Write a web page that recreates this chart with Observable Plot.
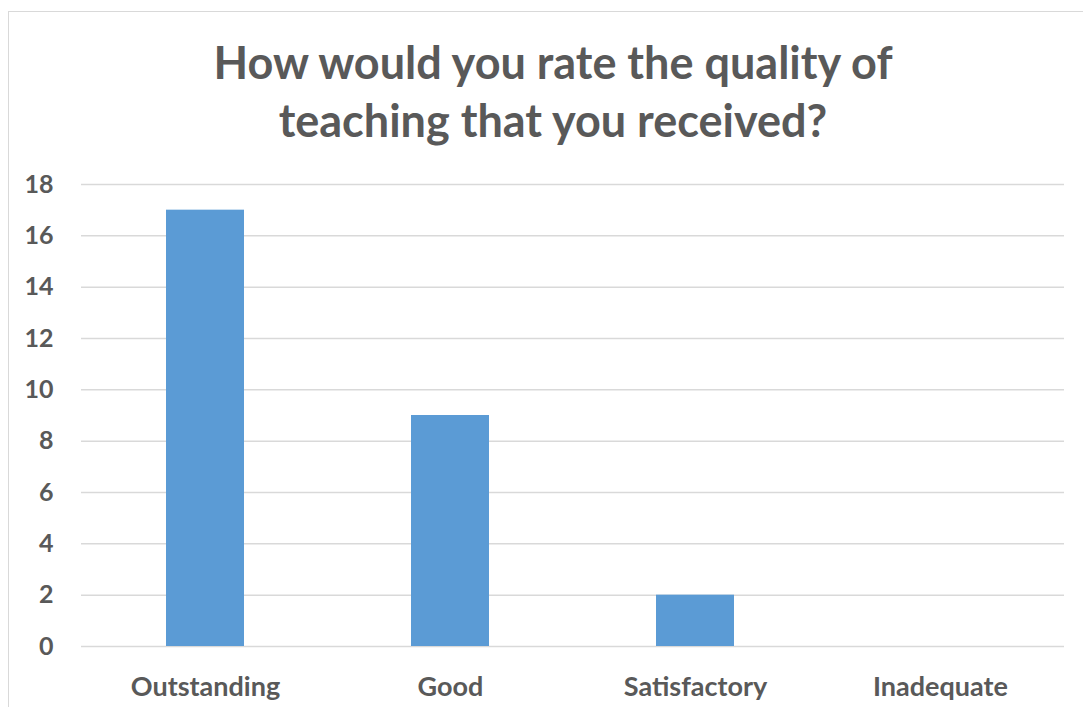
<!DOCTYPE html>
<html>
<head>
<meta charset="utf-8">
<script src="https://cdn.jsdelivr.net/npm/d3@7"></script>
<script src="https://cdn.jsdelivr.net/npm/@observablehq/plot@0.6"></script>
<style>
  html, body { margin: 0; padding: 0; background: #fff; width: 1083px; height: 707px; overflow: hidden; }
  #frame { position: absolute; left: 8px; top: 11px; width: 1100px; height: 720px; border: 1.5px solid #d9d9d9; box-sizing: border-box; }
  #title { position: absolute; left: 0; top: 33px; width: 1106px; text-align: center; font-family: Lato, sans-serif; font-weight: bold; font-size: 45px; line-height: 58px; color: #595959; }
  #chart { position: absolute; left: 0; top: 160px; }
</style>
</head>
<body>
<div id="frame"></div>
<div id="title">How would you rate the quality of<br>teaching that you received?</div>
<div id="chart"></div>
<script>
const categories = ["Outstanding", "Good", "Satisfactory", "Inadequate"];
const counts = [17, 9, 2, 0];
const yTicks = [0, 2, 4, 6, 8, 10, 12, 14, 16, 18];

const data = categories.map((c, i) => ({category: c, count: counts[i]}));

const chart = Plot.plot({
  width: 1083,
  height: 547,
  marginLeft: 81,
  marginRight: 19,
  marginTop: 24,
  marginBottom: 61,
  style: {fontFamily: "Lato, sans-serif", fontWeight: "bold", fontSize: "25px", color: "#595959", background: "transparent"},
  x: {domain: categories, paddingInner: 0.683, paddingOuter: 0.3415, label: null},
  y: {domain: [0, 18], label: null},
  marks: [
    Plot.gridY(yTicks, {stroke: "#d9d9d9", strokeOpacity: 1, strokeWidth: 1.5}),
    Plot.barY(data, {x: "category", y: "count", fill: "#5b9bd5"}),
    Plot.axisY(yTicks, {tickSize: 0, tickPadding: 28, fontSize: 25, fontWeight: "bold", fill: "#595959", label: null}),
    Plot.axisX({tickSize: 0, tickPadding: 30, fontSize: 27, fontWeight: "bold", fill: "#595959", label: null})
  ]
});
document.getElementById("chart").appendChild(chart);
</script>
</body>
</html>
